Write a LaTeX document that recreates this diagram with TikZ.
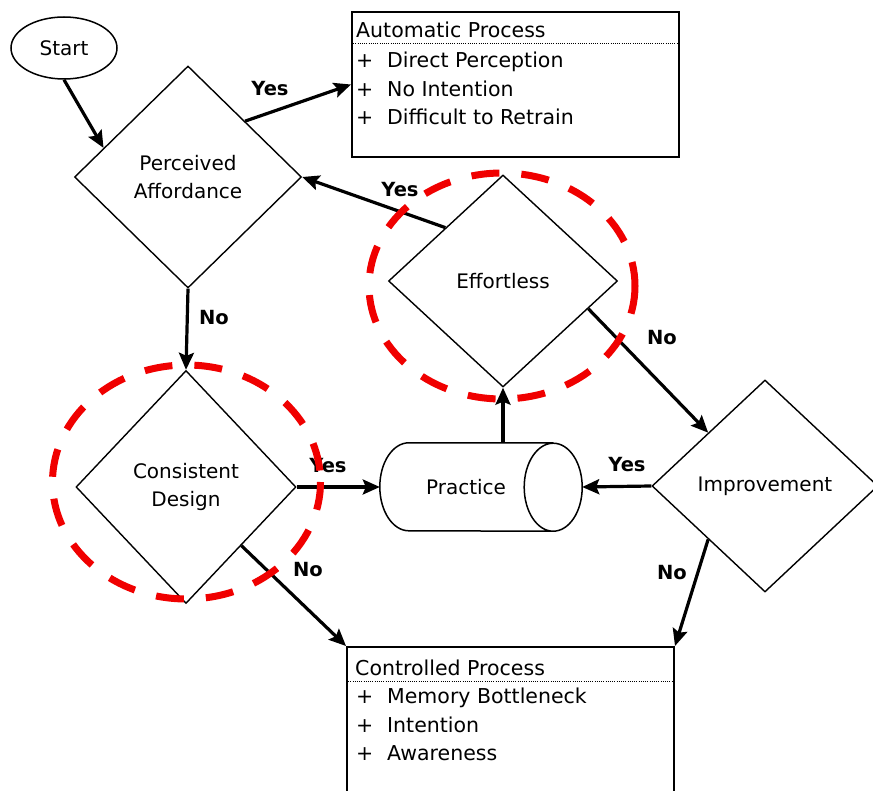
\documentclass[tikz,border=0pt]{standalone}
\usepackage{fontspec}
\setmainfont{DejaVu Sans}
\usepackage{tikz}
\usetikzlibrary{arrows.meta, positioning, shapes.geometric}
\definecolor{focusred}{RGB}{240,0,0}

\tikzset{
  decision/.style={diamond, draw, line width=1.4pt, align=center, inner sep=0pt, font=\fontsize{20}{28}\selectfont},
  flowarrow/.style={-{Stealth[length=17pt, width=15pt, inset=3pt]}, line width=3.2pt},
  answer/.style={font=\fontsize{19.5}{22}\selectfont\bfseries, inner sep=0pt},
  procbox/.style={draw, line width=2pt, minimum width=327pt, inner sep=0pt},
  boxtext/.style={font=\fontsize{20.5}{28.5}\selectfont, inner sep=0pt, anchor=base west},
  sepline/.style={line width=1pt, dash pattern=on 1pt off 1.2pt},
  focus/.style={draw=focusred, line width=7pt, dash pattern=on 28pt off 22pt},
}
\newcommand{\plusitem}{\makebox[31pt][l]{+}}

\begin{document}
\begin{tikzpicture}[x=1pt, y=-1pt]
        \useasboundingbox (0,0) rectangle (873,791);
        \clip (0,0) rectangle (873,791);

        % start and the first question
        \node[ellipse, draw, line width=1.5pt, minimum width=106pt, minimum height=62pt, inner sep=0pt, font=\fontsize{20}{24}\selectfont] (start) at (64,48) {Start};
        \node[decision, minimum width=227pt, minimum height=222pt] (pa) at (188,177) {Perceived\\Affordance};

        % automatic process box
        \node[procbox, minimum height=145pt] (auto) at (515.5,84.5) {};
        \node[boxtext] (autohead) at (356,38) {Automatic Process};
        \draw[sepline] ([yshift=-33pt]auto.north west) -- ([yshift=-33pt]auto.north east);
        \node[boxtext] (auto1) at (356,68) {\plusitem Direct Perception};
        \node[boxtext] (auto2) at (356,96.5) {\plusitem No Intention};
        \node[boxtext] (auto3) at (356,125) {\plusitem Difficult to Retrain};

        % the other questions
        \node[decision, minimum width=229pt, minimum height=212pt] (eff) at (503,281) {Effortless};
        \node[decision, minimum width=220pt, minimum height=233pt] (cd) at (186,487) {Consistent\\Design};
        \node[decision, minimum width=226pt, minimum height=212pt] (imp) at (765,486) {Improvement};

        % practice drum
        \node[minimum width=202pt, minimum height=88pt, inner sep=0pt, font=\fontsize{20}{24}\selectfont] (prac) at (481,487) {\hspace*{-30pt}Practice};
        \draw[line width=1.5pt] ([xshift=-29pt]prac.north east) -- ([xshift=29pt]prac.north west)
            arc[start angle=270, end angle=90, x radius=29, y radius=44]
            -- ([xshift=-29pt]prac.south east)
            arc[start angle=90, end angle=-90, x radius=29, y radius=44]
            arc[start angle=270, end angle=90, x radius=29, y radius=44];

        % controlled process box
        \node[procbox, minimum height=170pt] (ctrl) at (510.5,732) {};
        \node[boxtext] (ctrlhead) at (355,675) {Controlled Process};
        \draw[sepline] ([yshift=-35pt]ctrl.north west) -- ([yshift=-35pt]ctrl.north east);
        \node[boxtext] (ctrl1) at (356,703) {\plusitem Memory Bottleneck};
        \node[boxtext] (ctrl2) at (356,732) {\plusitem Intention};
        \node[boxtext] (ctrl3) at (356,760) {\plusitem Awareness};

        % arrows
        \draw[flowarrow] (start.south) -- (pa.161);
        \draw[flowarrow] (pa.north east) -- (auto.west);
        \draw[flowarrow] (pa.south) -- (cd.north);
        \draw[flowarrow] (eff.north west) -- (pa.east);
        \draw[flowarrow] (eff.-18) -- (imp.north west);
        \draw[flowarrow] (eff.south |- prac.north) -- (eff.south);
        \draw[flowarrow] (cd.east) -- (prac.west);
        \draw[flowarrow] (imp.west) -- (prac.east);
        \draw[flowarrow] (cd.south east) -- (ctrl.north west);
        \draw[flowarrow] (imp.south west) -- (ctrl.north east);

        \node[answer] (yes1) at (270,89) {Yes};
        \node[answer] (yes2) at (400,190) {Yes};
        \node[answer] (no1) at (214,318) {No};
        \node[answer] (no2) at (662,338) {No};
        \node[answer] (yes3) at (328,466) {Yes};
        \node[answer] (yes4) at (627,465) {Yes};
        \node[answer] (no3) at (308,570) {No};
        \node[answer] (no4) at (672,573) {No};

        % red marks
        \draw[focus] (502,286) ellipse [x radius=133, y radius=113];
        \draw[focus] (186.5,482) ellipse [x radius=134, y radius=117];
    \end{tikzpicture}
\end{document}
